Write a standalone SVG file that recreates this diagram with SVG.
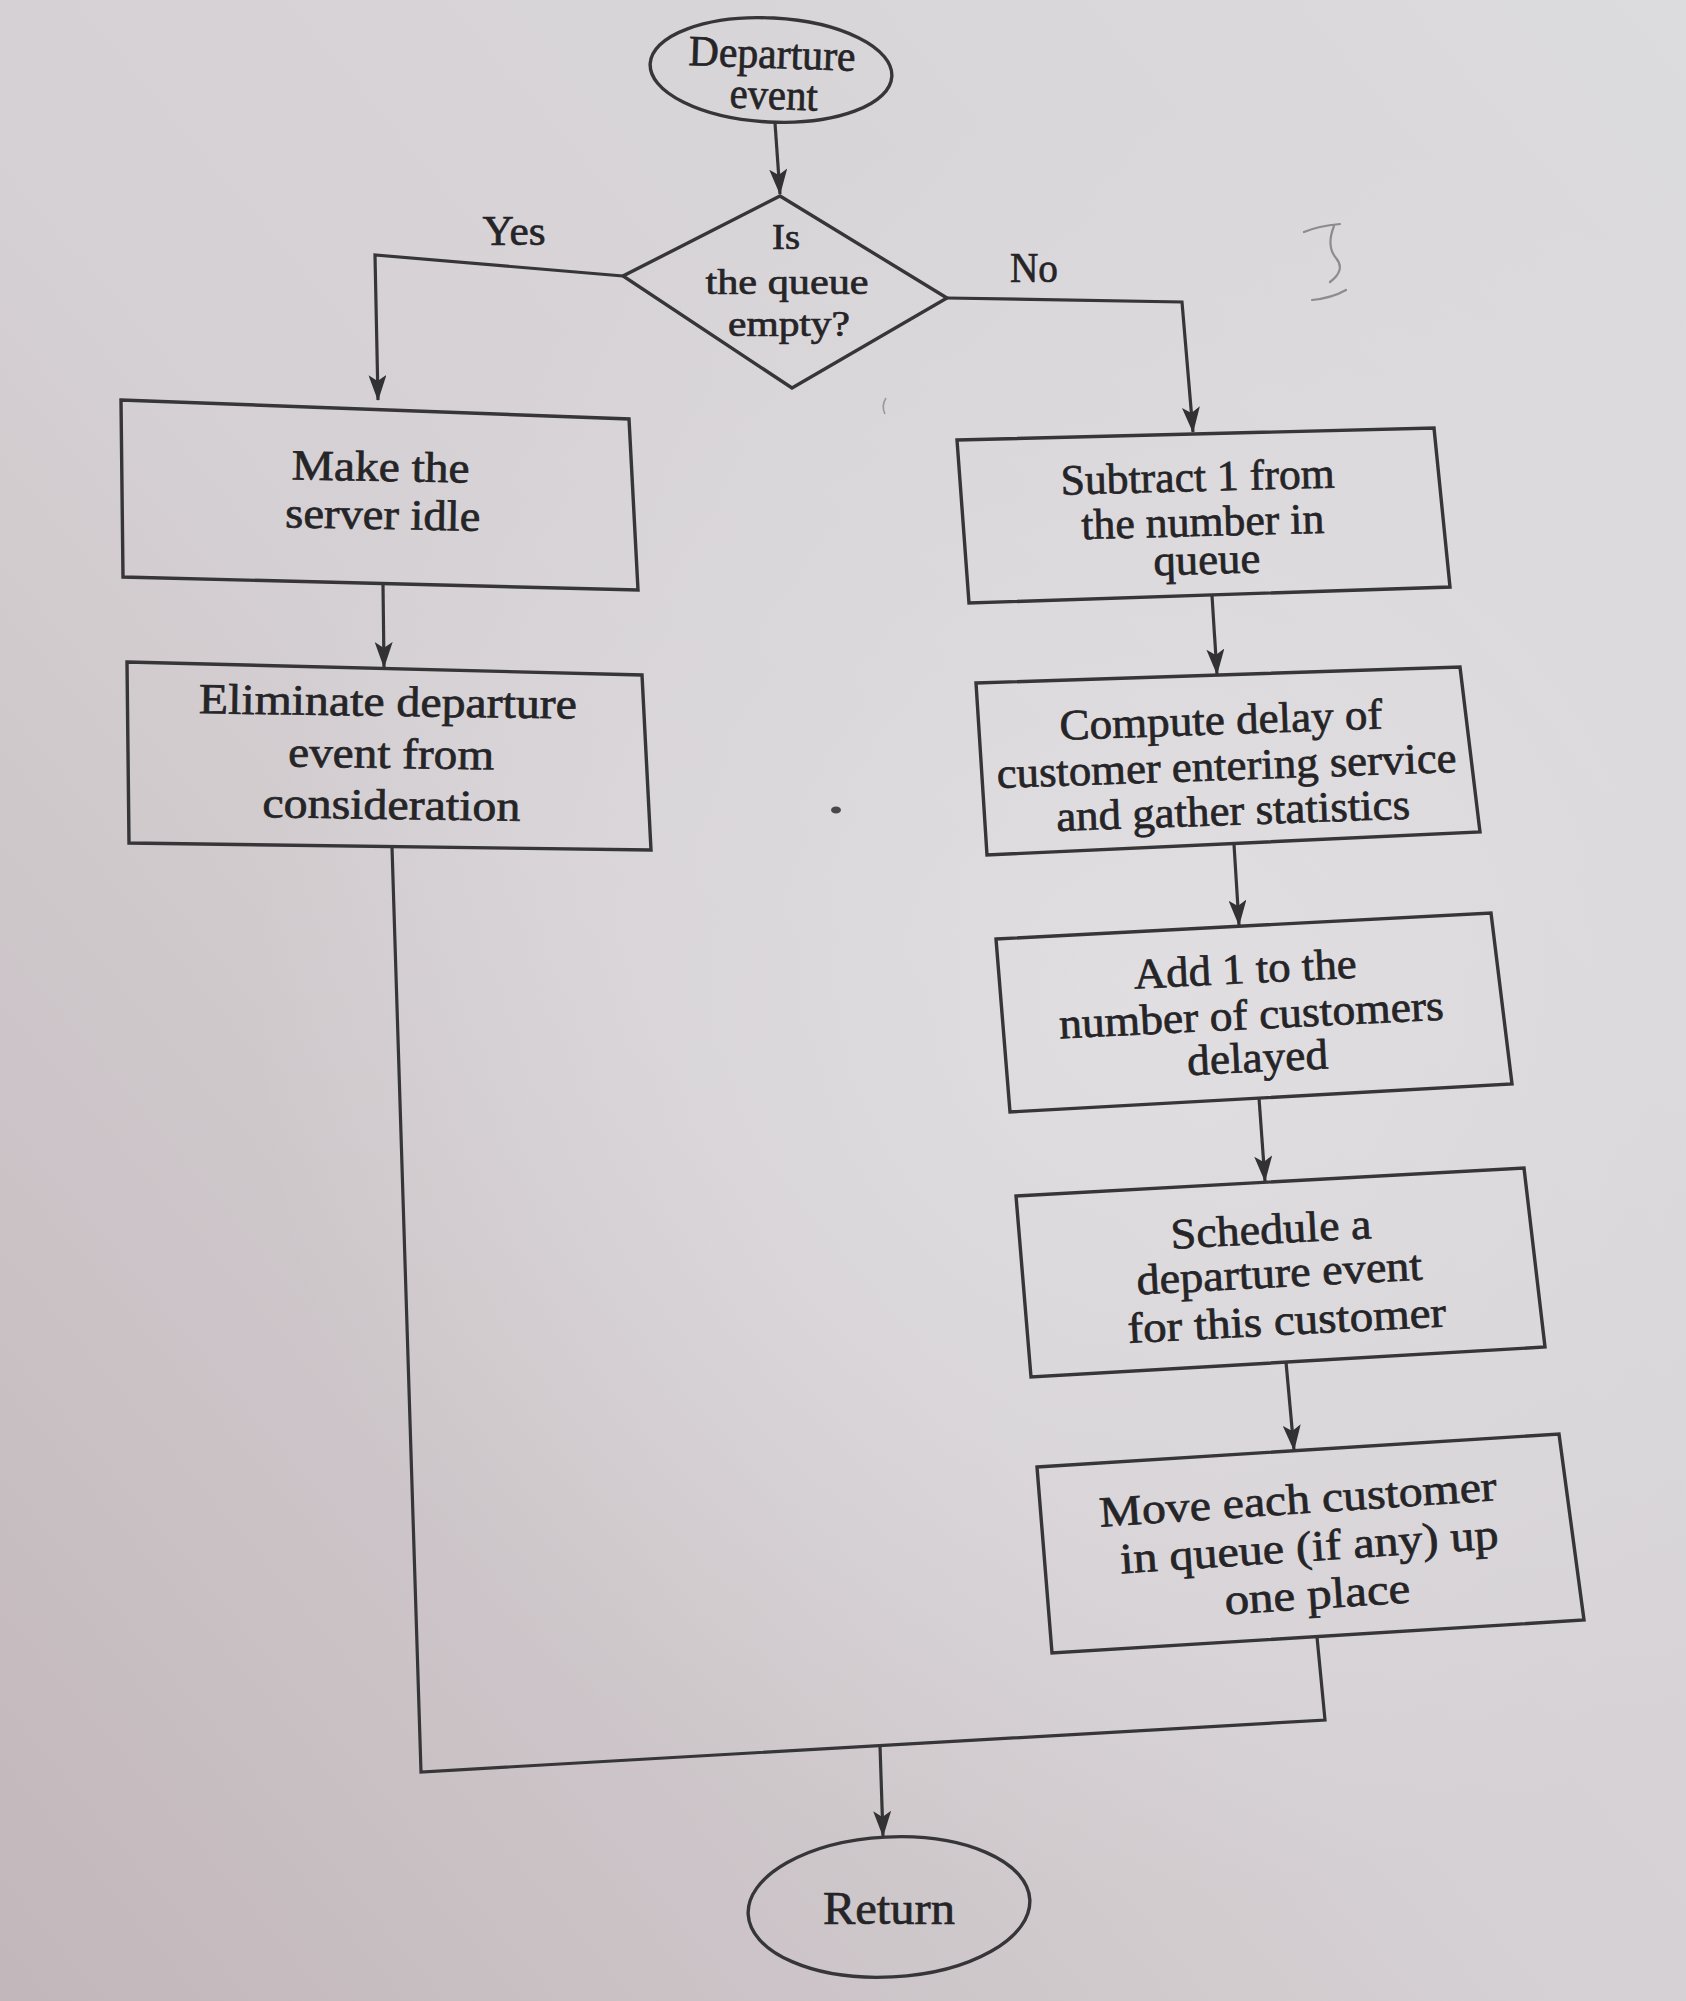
<svg xmlns="http://www.w3.org/2000/svg" width="1686" height="2001" viewBox="0 0 1686 2001">
  <defs>
    <!-- paper tone: darker, warmer lower left; lighter upper right -->
    <linearGradient id="paper" x1="0" y1="1" x2="1" y2="0">
      <stop offset="0" stop-color="#c2b7bb"/>
      <stop offset="0.45" stop-color="#d5d0d3"/>
      <stop offset="1" stop-color="#dcdbde"/>
    </linearGradient>
    <radialGradient id="glow" cx="1150" cy="1000" r="900" gradientUnits="userSpaceOnUse">
      <stop offset="0" stop-color="#e4e3e6" stop-opacity="0.7"/>
      <stop offset="1" stop-color="#e4e3e6" stop-opacity="0"/>
    </radialGradient>
    <marker id="arrow" markerUnits="userSpaceOnUse" viewBox="0 0 26 18" refX="25" refY="9" markerWidth="26" markerHeight="18" orient="auto">
      <path d="M0,0 L26,9 L0,18 L6,9 z" fill="#323134"/>
    </marker>
  </defs>
  <style>
    .shape { fill: none; stroke: #363538; stroke-width: 3.4; stroke-linejoin: miter; }
    .wire { fill: none; stroke: #363538; stroke-width: 3.2; stroke-linejoin: miter; }
    .txt { font-family: "Liberation Serif", "Times New Roman", serif; font-size: 43px; fill: #252427; stroke: #252427; stroke-width: 0.7; text-anchor: middle; }
    .small { font-size: 36px; }
    .pencil { fill: none; stroke: #8f8a8e; stroke-width: 2.2; stroke-linecap: round; }
  </style>

  <!-- page -->
  <rect x="0" y="0" width="1686" height="2001" fill="url(#paper)"/>
  <rect x="0" y="0" width="1686" height="2001" fill="url(#glow)"/>

  <!-- pencil marks and specks on the page -->
  <path class="pencil" d="M1304,232 Q1318,226 1340,224 M1334,226 Q1326,246 1336,258 Q1346,270 1330,282 M1312,300 Q1332,298 1346,290"/>
  <ellipse cx="836" cy="810" rx="5" ry="3.5" fill="#4a474b"/>
  <path d="M886,398 Q881,406 885,414" fill="none" stroke="#9b969a" stroke-width="1.6"/>

  <!-- connectors -->
  <g id="connectors">
    <path class="wire" d="M775,123 L780,194" marker-end="url(#arrow)"/>
    <path class="wire" d="M623,276 L375,255 L378,400" marker-end="url(#arrow)"/>
    <path class="wire" d="M947,298 L1182,302 L1193,432" marker-end="url(#arrow)"/>
    <path class="wire" d="M383,585 L384,667" marker-end="url(#arrow)"/>
    <path class="wire" d="M1212,596 L1217,674" marker-end="url(#arrow)"/>
    <path class="wire" d="M1234,844 L1239,925" marker-end="url(#arrow)"/>
    <path class="wire" d="M1259,1098 L1265,1181" marker-end="url(#arrow)"/>
    <path class="wire" d="M1286,1362 L1294,1450" marker-end="url(#arrow)"/>
    <path class="wire" d="M392,847 L421,1772 L1325,1720 L1317,1637"/>
    <path class="wire" d="M880,1746 L883,1836" marker-end="url(#arrow)"/>
    <text class="txt" x="514" y="245" textLength="63" lengthAdjust="spacingAndGlyphs">Yes</text>
    <text class="txt" x="1034" y="282" textLength="48" lengthAdjust="spacingAndGlyphs">No</text>
  </g>

  <!-- start terminal -->
  <g id="node-departure">
    <ellipse class="shape" cx="771" cy="70" rx="121" ry="52" transform="rotate(3 771 70)"/>
    <g transform="rotate(2 771 88)">
      <text class="txt" x="771" y="68" textLength="167" lengthAdjust="spacingAndGlyphs">Departure</text>
      <text class="txt" x="774" y="109" textLength="88" lengthAdjust="spacingAndGlyphs">event</text>
    </g>
  </g>

  <!-- decision -->
  <g id="node-queue-empty">
    <polygon class="shape" points="780,196 947,298 792,388 623,276"/>
    <text class="txt small" x="786" y="249" textLength="28" lengthAdjust="spacingAndGlyphs">Is</text>
    <text class="txt small" x="787" y="294" textLength="163" lengthAdjust="spacingAndGlyphs">the queue</text>
    <text class="txt small" x="789" y="336" textLength="122" lengthAdjust="spacingAndGlyphs">empty?</text>
  </g>

  <!-- empty-queue branch -->
  <g id="node-server-idle">
    <polygon class="shape" points="121,400 629,419 638,590 123,577"/>
    <g transform="rotate(1 380 505)">
      <text class="txt" x="380" y="481" textLength="178" lengthAdjust="spacingAndGlyphs">Make the</text>
      <text class="txt" x="383" y="529" textLength="195" lengthAdjust="spacingAndGlyphs">server idle</text>
    </g>
  </g>

  <g id="node-eliminate">
    <polygon class="shape" points="127,662 642,675 651,850 129,843"/>
    <g transform="rotate(0.8 390 765)">
      <text class="txt" x="387" y="716" textLength="378" lengthAdjust="spacingAndGlyphs">Eliminate departure</text>
      <text class="txt" x="391" y="768" textLength="206" lengthAdjust="spacingAndGlyphs">event from</text>
      <text class="txt" x="392" y="819" textLength="258" lengthAdjust="spacingAndGlyphs">consideration</text>
    </g>
  </g>

  <!-- non-empty-queue branch -->
  <g id="node-subtract">
    <polygon class="shape" points="957,440 1434,428 1450,587 969,603"/>
    <g transform="rotate(-1.5 1203 530)">
      <text class="txt" x="1199" y="491" textLength="274" lengthAdjust="spacingAndGlyphs">Subtract 1 from</text>
      <text class="txt" x="1203" y="536" textLength="243" lengthAdjust="spacingAndGlyphs">the number in</text>
      <text class="txt" x="1206" y="574" textLength="107" lengthAdjust="spacingAndGlyphs">queue</text>
    </g>
  </g>

  <g id="node-compute-delay">
    <polygon class="shape" points="976,683 1460,667 1480,832 987,855"/>
    <g transform="rotate(-2 1227 780)">
      <text class="txt" x="1223" y="734" textLength="323" lengthAdjust="spacingAndGlyphs">Compute delay of</text>
      <text class="txt" x="1227" y="780" textLength="460" lengthAdjust="spacingAndGlyphs">customer entering service</text>
      <text class="txt" x="1232" y="825" textLength="354" lengthAdjust="spacingAndGlyphs">and gather statistics</text>
    </g>
  </g>

  <g id="node-add-delayed">
    <polygon class="shape" points="996,939 1491,913 1512,1084 1010,1112"/>
    <g transform="rotate(-2.8 1252 1028)">
      <text class="txt" x="1248" y="983" textLength="223" lengthAdjust="spacingAndGlyphs">Add 1 to the</text>
      <text class="txt" x="1252" y="1029" textLength="385" lengthAdjust="spacingAndGlyphs">number of customers</text>
      <text class="txt" x="1256" y="1072" textLength="141" lengthAdjust="spacingAndGlyphs">delayed</text>
    </g>
  </g>

  <g id="node-schedule">
    <polygon class="shape" points="1016,1196 1524,1168 1545,1347 1031,1377"/>
    <g transform="rotate(-3 1280 1288)">
      <text class="txt" x="1274" y="1243" textLength="201" lengthAdjust="spacingAndGlyphs">Schedule a</text>
      <text class="txt" x="1280" y="1287" textLength="286" lengthAdjust="spacingAndGlyphs">departure event</text>
      <text class="txt" x="1285" y="1335" textLength="319" lengthAdjust="spacingAndGlyphs">for this customer</text>
    </g>
  </g>

  <g id="node-move-queue">
    <polygon class="shape" points="1037,1467 1559,1434 1584,1620 1052,1653"/>
    <g transform="rotate(-3.8 1308 1560)">
      <text class="txt" x="1302" y="1513" textLength="398" lengthAdjust="spacingAndGlyphs">Move each customer</text>
      <text class="txt" x="1310" y="1561" textLength="379" lengthAdjust="spacingAndGlyphs">in queue (if any) up</text>
      <text class="txt" x="1315" y="1609" textLength="186" lengthAdjust="spacingAndGlyphs">one place</text>
    </g>
  </g>

  <!-- end terminal -->
  <g id="node-return">
    <ellipse class="shape" cx="889" cy="1907" rx="141" ry="70" transform="rotate(-3 889 1907)"/>
    <text class="txt" x="889" y="1924" textLength="132" lengthAdjust="spacingAndGlyphs" style="font-size:47px">Return</text>
  </g>
</svg>
